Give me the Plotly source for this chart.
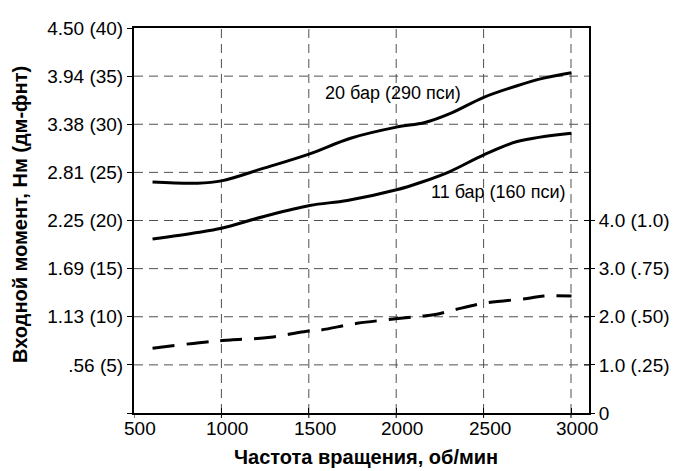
import plotly.graph_objects as go

# Data (x: rpm, y: torque in lbf-ft units of the left axis bracket scale)
rpm_20 = [606, 863, 1000, 1243, 1505, 1739, 2002, 2164, 2307, 2501, 2692, 2844, 3003]
tq_20 = [24.0, 23.88, 24.12, 25.44, 26.93, 28.55, 29.7, 30.18, 31.1, 32.8, 34.0, 34.79, 35.34]

rpm_11 = [606, 863, 1000, 1243, 1505, 1720, 2002, 2139, 2307, 2501, 2692, 3003]
tq_11 = [18.07, 18.75, 19.2, 20.42, 21.56, 22.08, 23.19, 23.95, 25.09, 26.82, 28.2, 29.07]

rpm_flow = [606, 949, 1053, 1282, 1472, 1567, 1777, 1986, 2139, 2215, 2329, 2501, 2749, 2844, 3003]
val_flow = [6.73, 7.45, 7.59, 7.87, 8.45, 8.62, 9.32, 9.76, 10.07, 10.2, 10.7, 11.4, 11.9, 12.15, 12.15]

x_ticks = [500, 1000, 1500, 2000, 2500, 3000]
x_ticktext = ["500", "1000", "1500", "2000", "2500", "3000"]
left_tickvals = [0, 5, 10, 15, 20, 25, 30, 35, 40]
left_ticktext = ["", ".56 (5)", "1.13 (10)", "1.69 (15)", "2.25 (20)", "2.81 (25)",
                 "3.38 (30)", "3.94 (35)", "4.50 (40)"]
right_tickvals = [0, 5, 10, 15, 20]
right_ticktext = ["0", "1.0 (.25)", "2.0 (.50)", "3.0 (.75)", "4.0 (1.0)"]

label_20 = "20 бар (290 пси)"
label_11 = "11 бар (160 пси)"
x_title = "Частота вращения, об/мин"
y_title = "Входной момент, Нм (дм-фнт)"

FONT = "Liberation Sans, Arial, sans-serif"
XR = [500, 3103]
YR = [0, 40]

fig = go.Figure()
fig.add_trace(go.Scatter(x=rpm_20, y=tq_20, mode="lines", line=dict(color="black", width=3, shape="spline"),
                         showlegend=False, hoverinfo="skip"))
fig.add_trace(go.Scatter(x=rpm_11, y=tq_11, mode="lines", line=dict(color="black", width=3, shape="spline"),
                         showlegend=False, hoverinfo="skip"))
fig.add_trace(go.Scatter(x=rpm_flow, y=val_flow, mode="lines",
                         line=dict(color="black", width=3, shape="spline", dash="22px,12px"),
                         showlegend=False, hoverinfo="skip"))
# dummy trace to activate the right axis
fig.add_trace(go.Scatter(x=[None], y=[None], yaxis="y2", showlegend=False, hoverinfo="skip"))

tick_font = dict(family=FONT, size=19, color="black")
GRID_LINE = dict(color="#505050", width=1, dash="9px,6px")
TICK_LINE = dict(color="black", width=1)

shapes = []
# vertical grid lines
for v in x_ticks[1:]:
    shapes.append(dict(type="line", xref="x", yref="paper", x0=v, x1=v, y0=0, y1=1,
                       line=GRID_LINE, layer="below"))
# outside tick marks on the x axis (inside ones come from the axis itself)
for v in x_ticks:
    shapes.append(dict(type="line", xref="x", yref="paper", x0=v, x1=v, ysizemode="pixel",
                       yanchor=0, y0=-5, y1=0, line=TICK_LINE))
# horizontal grid lines
for v in left_tickvals[1:-1]:
    shapes.append(dict(type="line", xref="paper", yref="y", x0=0, x1=1, y0=v, y1=v,
                       line=GRID_LINE, layer="below"))
# inside tick marks on the right axis
for v in right_tickvals[1:]:
    shapes.append(dict(type="line", xref="paper", yref="y", y0=v, y1=v, xsizemode="pixel",
                       xanchor=1, x0=-5, x1=0, line=TICK_LINE))

annotations = [
    dict(x=1979, y=33.2, xref="x", yref="y", text=label_20, showarrow=False,
         font=dict(family=FONT, size=18, color="black")),
    dict(x=2582, y=22.98, xref="x", yref="y", text=label_11, showarrow=False,
         font=dict(family=FONT, size=18, color="black")),
    dict(x=0.5104, y=0, xref="paper", yref="paper", yshift=-44, text="<b>" + x_title + "</b>",
         showarrow=False, yanchor="middle", font=dict(family=FONT, size=20, color="black")),
    dict(x=-0.249, y=0.516, xref="paper", yref="paper", text="<b>" + y_title + "</b>", textangle=-90,
         showarrow=False, xanchor="center", yanchor="middle", font=dict(family=FONT, size=20, color="black")),
]
# x tick labels placed at the x tick values
for v, t in zip(x_ticks, x_ticktext):
    annotations.append(dict(x=v, y=0, xref="x", yref="paper", text=t, showarrow=False,
                            xanchor="center", yanchor="top", xshift=6, yshift=-3, font=tick_font))

fig.update_layout(
    width=678, height=471,
    margin=dict(l=133.5, r=89, t=27.5, b=58.3),
    paper_bgcolor="white", plot_bgcolor="white",
    font=dict(family=FONT, color="black"),
    xaxis=dict(range=XR, tickvals=x_ticks, ticks="inside", ticklen=5, tickwidth=1, tickcolor="black",
               showline=True, linecolor="black", linewidth=2, mirror=True, zeroline=False,
               showgrid=False, showticklabels=False, automargin=False),
    yaxis=dict(range=YR, tickvals=left_tickvals, ticktext=left_ticktext, ticks="outside", ticklen=5,
               tickwidth=1, tickcolor="black", showline=True, linecolor="black", linewidth=2, mirror=True,
               zeroline=False, showgrid=False, tickfont=tick_font, automargin=False),
    yaxis2=dict(range=YR, overlaying="y", side="right", tickvals=right_tickvals, ticktext=right_ticktext,
                ticks="outside", ticklen=5, tickcolor="black", showgrid=False, zeroline=False,
                tickfont=tick_font, showline=False, automargin=False),
    shapes=shapes,
    annotations=annotations,
)

fig.write_html("out.html")
